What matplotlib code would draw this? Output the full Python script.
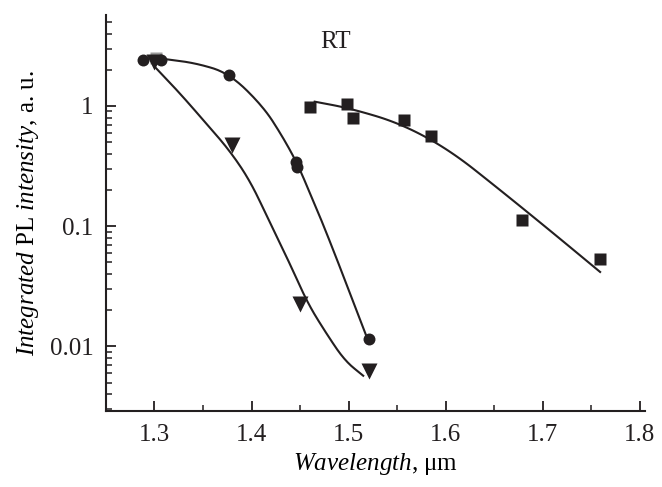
import matplotlib
matplotlib.use("Agg")
import matplotlib.pyplot as plt
from matplotlib.ticker import LogLocator, FixedLocator, NullFormatter
import numpy as np

plt.rcParams['font.family'] = 'Liberation Serif'
plt.rcParams['mathtext.fontset'] = 'custom'
plt.rcParams['mathtext.rm'] = 'Liberation Serif'
plt.rcParams['mathtext.it'] = 'Liberation Serif:italic'

# measured integrated PL vs emission wavelength, three samples
x_circ = [1.288, 1.307, 1.377, 1.446, 1.447, 1.521]
y_circ = [2.40, 2.40, 1.82, 0.345, 0.31, 0.0115]
x_tri = [1.300, 1.380, 1.450, 1.521]
y_tri = [2.30, 0.47, 0.0225, 0.0062]
x_sq = [1.460, 1.498, 1.504, 1.557, 1.585, 1.679, 1.759]
y_sq = [0.98, 1.04, 0.80, 0.77, 0.56, 0.112, 0.053]
x_ref = [1.302]
y_ref = [2.50]

# guide-to-the-eye curves through the data
xc_circ = [1.310, 1.343, 1.377, 1.412, 1.432, 1.448, 1.463, 1.472, 1.491, 1.5165, 1.520]
yc_circ = [2.46, 2.27, 1.87, 0.99, 0.555, 0.322, 0.165, 0.112, 0.0458, 0.0132, 0.0112]
xc_tri = [1.300, 1.326, 1.353, 1.377, 1.398, 1.417, 1.441, 1.458, 1.477, 1.496, 1.515]
yc_tri = [2.13, 1.28, 0.72, 0.43, 0.242, 0.116, 0.0458, 0.0227, 0.0128, 0.0076, 0.0057]
xc_sq = [1.465, 1.501, 1.553, 1.604, 1.656, 1.707, 1.759]
yc_sq = [1.086, 0.957, 0.718, 0.43, 0.20, 0.0926, 0.0416]

ink = '#231f20'

fig = plt.figure(figsize=(6.62, 4.87), dpi=100)
ax = fig.add_axes([0.160, 0.156, 0.814, 0.813])

def smooth(xs, ys, n=4):
    # Chaikin corner cutting in (x, log10 I), end points kept
    p = np.column_stack([xs, np.log10(ys)])
    for _ in range(n):
        q = 0.75 * p[:-1] + 0.25 * p[1:]
        r = 0.25 * p[:-1] + 0.75 * p[1:]
        mid = np.empty((2 * len(q), 2))
        mid[0::2] = q
        mid[1::2] = r
        p = np.vstack([p[:1], mid, p[-1:]])
    return p[:, 0], 10 ** p[:, 1]

for xs, ys in [(xc_circ, yc_circ), (xc_tri, yc_tri), (xc_sq, yc_sq)]:
    xx, yy = smooth(xs, ys)
    ax.plot(xx, yy, color=ink, lw=1.5)

ax.plot(x_ref, y_ref, 's', color='#9a9a9a', ms=9, mec='none')
ax.plot(x_circ, y_circ, 'o', color=ink, ms=8.6, mec='none')
ax.plot(x_tri, y_tri, 'v', color=ink, ms=12, mec='none')
ax.plot(x_sq, y_sq, 's', color=ink, ms=8, mec='none')

ax.set_yscale('log')
ax.set_xlim(1.25, 1.805)
ax.set_ylim(0.0029, 5.7)

ax.xaxis.set_major_locator(FixedLocator([1.3, 1.4, 1.5, 1.6, 1.7, 1.8]))
ax.xaxis.set_minor_locator(FixedLocator([1.35, 1.45, 1.55, 1.65, 1.75]))
ax.yaxis.set_major_locator(FixedLocator([0.01, 0.1, 1]))
ax.yaxis.set_minor_locator(LogLocator(base=10, subs=np.arange(2, 10)))
ax.yaxis.set_minor_formatter(NullFormatter())
ax.set_yticklabels(['0.01', '0.1', '1'])
ax.set_xticklabels(['1.3', '1.4', '1.5', '1.6', '1.7', '1.8'])

for s in ['top', 'right']:
    ax.spines[s].set_visible(False)
for s in ['left', 'bottom']:
    ax.spines[s].set_linewidth(1.5)
    ax.spines[s].set_color(ink)

ax.tick_params(which='major', direction='in', length=7, width=1.3,
               labelsize=18, pad=9, colors=ink)
ax.tick_params(which='minor', direction='in', length=4.5, width=1.1,
               colors=ink)

ax.set_xlabel(r'$\mathit{Wavelength}$, μm', fontsize=18, labelpad=4)
ax.set_ylabel(r'$\mathit{Integrated}$ PL $\mathit{intensity}$, a. u.',
              fontsize=18, labelpad=6)
ax.text(1.487, 3.4, 'RT', fontsize=18, ha='center', va='center', color=ink)

fig.savefig('out.png', dpi=100)
